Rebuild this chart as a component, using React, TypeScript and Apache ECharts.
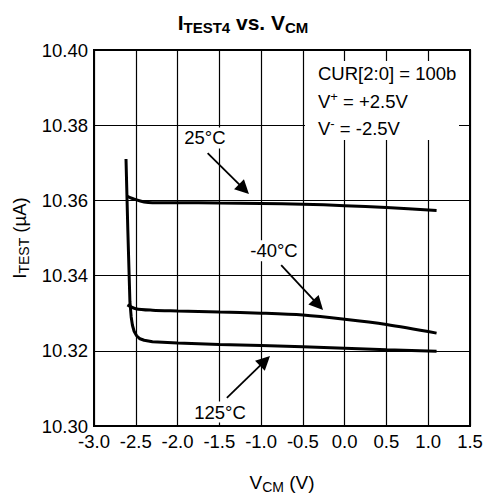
import React, { useEffect, useRef } from "react";
import * as echarts from "echarts";

// ---- data ----
const vcm25 = [-2.6, -2.5, -2.4, -2.3, -2.0, -1.5, -1.0, -0.5, 0.0, 0.5, 1.1];
const itest25 = [10.3611, 10.3602, 10.3596, 10.3594, 10.3594, 10.3593, 10.3592, 10.359, 10.3586, 10.3581, 10.3573];

const vcmM40 = [-2.6, -2.5, -2.3, -2.0, -1.5, -1.0, -0.5, 0.0, 0.5, 1.1];
const itestM40 = [10.3322, 10.3312, 10.3308, 10.3306, 10.3303, 10.33, 10.3295, 10.3284, 10.327, 10.3247];

const vcm125 = [-2.617, -2.595, -2.57, -2.555, -2.54, -2.52, -2.49, -2.45, -2.4, -2.3, -2.0, -1.5, -1.0, -0.5, 0.0, 0.5, 1.1];
const itest125 = [10.371, 10.352, 10.333, 10.329, 10.3268, 10.3252, 10.324, 10.3232, 10.3228, 10.3224, 10.3221, 10.3217, 10.3214, 10.3211, 10.3207, 10.3203, 10.3199];

const xMin = -3.0;
const xMax = 1.5;
const xStep = 0.5;
const yMin = 10.3;
const yMax = 10.4;
const yStep = 0.02;

const curveLabels = ["25°C", "-40°C", "125°C"];
// annotation anchors in data coordinates: label centre, arrow from -> to
const labelAt = [
  [-1.672, 10.3766],
  [-0.846, 10.3466],
  [-1.492, 10.3037],
];
const arrowFrom = [
  [-1.64, 10.3726],
  [-0.76, 10.3428],
  [-1.41, 10.3075],
];
const arrowTo = [
  [-1.205, 10.363],
  [-0.316, 10.3322],
  [-0.954, 10.3173],
];

const FONT = "'Liberation Sans', Arial, Helvetica, sans-serif";

const zip = (xs: number[], ys: number[]) => xs.map((x, i) => [x, ys[i]]);

const richBase = (size: number, sub: number, bold = false) => ({
  a: { fontSize: size, fontFamily: FONT, color: "#000", fontWeight: bold ? "bold" : "normal", lineHeight: size + 4 },
  s: {
    fontSize: sub,
    fontFamily: FONT,
    color: "#000",
    fontWeight: bold ? "bold" : "normal",
    lineHeight: sub,
    verticalAlign: "bottom",
  },
  u: {
    fontSize: sub,
    fontFamily: FONT,
    color: "#000",
    lineHeight: sub,
    verticalAlign: "top",
  },
});

const makeSeries = (name: string, xs: number[], ys: number[], idx: number, smooth: number | boolean) => ({
  name,
  type: "line",
  data: zip(xs, ys),
  showSymbol: false,
  smooth,
  lineStyle: { color: "#000", width: 3 },
  itemStyle: { color: "#000" },
  z: 3,
  markLine: {
    silent: true,
    symbol: ["none", "triangle"],
    symbolSize: 14,
    itemStyle: { color: "#000" },
    lineStyle: { color: "#000", width: 1.8, type: "solid" },
    label: { show: false },
    data: [[{ coord: arrowFrom[idx] }, { coord: arrowTo[idx] }]],
    z: 4,
  },
  markPoint: {
    silent: true,
    symbol: "circle",
    symbolSize: 1,
    itemStyle: { color: "rgba(0,0,0,0)" },
    label: {
      show: true,
      position: "inside",
      formatter: curveLabels[idx],
      color: "#000",
      fontSize: 18.5,
      fontFamily: FONT,
      backgroundColor: "#fff",
      padding: [1, 2, 1, 2],
    },
    data: [{ coord: labelAt[idx] }],
    z: 5,
  },
});

export default function App() {
  const ref = useRef<HTMLDivElement>(null);
  useEffect(() => {
    if (!ref.current) return;
    const chart = echarts.init(ref.current, null, { renderer: "svg" });
    const option: any = {
      animation: false,
      backgroundColor: "#fff",
      title: {
        text: "{a|I}{s|TEST4}{a| vs. V}{s|CM}",
        left: "center",
        top: 5,
        textStyle: { rich: richBase(21, 15, true) },
      },
      grid: {
        left: 94,
        right: 16,
        top: 50,
        bottom: 73,
        show: true,
        borderColor: "#000",
        borderWidth: 2,
        backgroundColor: "transparent",
      },
      xAxis: {
        type: "value",
        min: xMin,
        max: xMax,
        interval: xStep,
        axisLine: { show: true, onZero: false, lineStyle: { color: "#000", width: 2 } },
        axisTick: { show: false },
        splitLine: { show: true, lineStyle: { color: "#000", width: 1.2 } },
        axisLabel: {
          color: "#000",
          fontSize: 18.5,
          fontFamily: FONT,
          margin: 6,
          formatter: (v: number) => v.toFixed(1),
        },
        name: "{a|V}{s|CM}{a| (V)}",
        nameLocation: "middle",
        nameGap: 45,
        nameTextStyle: { rich: richBase(19, 14) },
      },
      yAxis: {
        type: "value",
        min: yMin,
        max: yMax,
        interval: yStep,
        axisLine: { show: true, onZero: false, lineStyle: { color: "#000", width: 2 } },
        axisTick: { show: false },
        splitLine: { show: true, lineStyle: { color: "#000", width: 1.2 } },
        axisLabel: {
          color: "#000",
          fontSize: 18.5,
          fontFamily: FONT,
          margin: 6,
          formatter: (v: number) => v.toFixed(2),
        },
        name: "{a|I}{s|TEST}{a| (µA)}",
        nameLocation: "middle",
        nameGap: 62,
        nameRotate: 90,
        nameTextStyle: { rich: richBase(18.5, 14) },
      },
      graphic: [
        {
          type: "rect",
          z: 100,
          shape: { x: 305, y: 61, width: 154, height: 79 },
          style: { fill: "#fff" },
        },
        {
          type: "text",
          z: 101,
          x: 318,
          y: 73,
          style: {
            text: "CUR[2:0] = 100b",
            fill: "#000",
            font: `18.5px ${FONT}`,
            verticalAlign: "middle",
            align: "left",
          },
        },
        {
          type: "text",
          z: 101,
          x: 318,
          y: 101,
          style: {
            text: "{a|V}{u|+}{a| = +2.5V}",
            verticalAlign: "middle",
            align: "left",
            rich: richBase(18.5, 13),
          },
        },
        {
          type: "text",
          z: 101,
          x: 318,
          y: 128,
          style: {
            text: "{a|V}{u|-}{a| = -2.5V}",
            verticalAlign: "middle",
            align: "left",
            rich: richBase(18.5, 13),
          },
        },
      ],
      series: [
        makeSeries("25°C", vcm25, itest25, 0, 0.3),
        makeSeries("-40°C", vcmM40, itestM40, 1, 0.3),
        makeSeries("125°C", vcm125, itest125, 2, false),
      ],
    };
    chart.setOption(option);
    return () => chart.dispose();
  }, []);
  return (
    <div
      ref={ref}
      style={{ position: "fixed", left: 0, top: 0, width: 486, height: 499, background: "#fff" }}
    />
  );
}
